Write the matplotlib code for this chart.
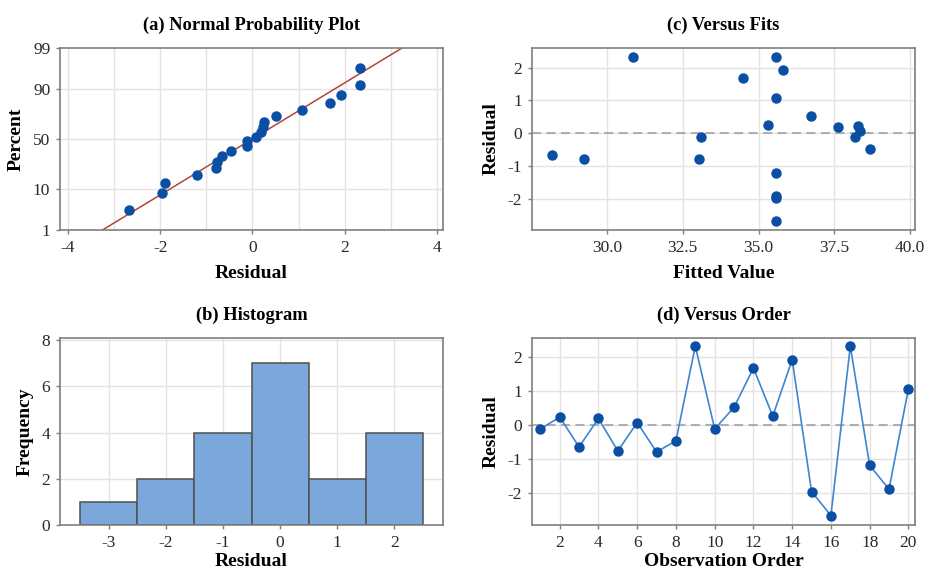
import matplotlib.pyplot as plt
import numpy as np
from statistics import NormalDist

plt.rcParams['font.family'] = ['Liberation Serif', 'DejaVu Serif']
plt.rcParams['axes.unicode_minus'] = False

# residuals in observation order
order = list(range(1, 21))
residuals = [-0.12, 0.23, -0.65, 0.19, -0.77, 0.07, -0.80, -0.47, 2.33, -0.12,
             0.52, 1.68, 0.26, 1.93, -1.97, -2.68, 2.33, -1.20, -1.90, 1.07]
fitted = [38.17, 38.27, 28.2, 37.62, 33.04, 38.33, 29.23, 38.67, 30.87, 33.1,
          36.74, 34.48, 35.3, 35.81, 35.56, 35.56, 35.56, 35.56, 35.56, 35.56]

hist_centers = [-3, -2, -1, 0, 1, 2]
hist_counts = [1, 2, 4, 7, 2, 4]

pct_ticks = [1, 10, 50, 90, 99]

nd = NormalDist()
def z(p):
    return nd.inv_cdf(p / 100.0)

dot = '#0A4FA3'
grid_c = '#E3E3E3'
spine_c = '#7F7F7F'
txt_c = '#2A2A2A'
TITLE = 13.3
LABEL = 14

fig = plt.figure(figsize=(9.25, 5.75), dpi=100)
W, H = 925, 575
def axes_px(l, r, t, b):
    return fig.add_axes([l / W, 1 - b / H, (r - l) / W, (b - t) / H])

ax_a = axes_px(60, 443, 48, 230)
ax_c = axes_px(532, 915, 48, 230)
ax_b = axes_px(60, 443, 338, 525)
ax_d = axes_px(532, 915, 338, 525)

def style(ax, title, xlabel, ylabel, xpad=7):
    for s in ax.spines.values():
        s.set_color(spine_c)
        s.set_linewidth(1.2)
    ax.tick_params(colors=spine_c, labelcolor=txt_c, labelsize=12.5, length=3, width=1, pad=4)
    ax.set_axisbelow(True)
    ax.set_title(title, fontsize=TITLE, fontweight='bold', pad=13)
    ax.set_xlabel(xlabel, fontsize=LABEL, fontweight='bold', labelpad=xpad)
    ax.set_ylabel(ylabel, fontsize=LABEL, fontweight='bold', labelpad=6)

# (a) normal probability plot
srt = np.sort(residuals)
n = len(srt)
probs = (np.arange(1, n + 1) - 0.3) / (n + 0.4) * 100
ax_a.set_xlim(-4.17, 4.13)
ax_a.set_ylim(z(1), z(99))
for gx in range(-4, 5):
    ax_a.axvline(gx, color=grid_c, lw=1, zorder=0)
for p in pct_ticks[1:-1]:
    ax_a.axhline(z(p), color=grid_c, lw=1, zorder=0)
mu = np.mean(residuals)
sd = np.std(residuals, ddof=1)
zz = np.array([z(0.5), z(99.5)])
ax_a.plot(mu + sd * zz, zz, color='#B5443C', lw=1.1, zorder=2)
ax_a.plot(srt, [z(p) for p in probs], 'o', color=dot, ms=6.5, zorder=3)
ax_a.set_xticks([-4, -2, 0, 2, 4])
ax_a.set_yticks([z(p) for p in pct_ticks])
ax_a.set_yticklabels([str(p) for p in pct_ticks])
style(ax_a, '(a) Normal Probability Plot', 'Residual', 'Percent')

# (c) versus fits
ax_c.set_xlim(27.53, 40.16)
ax_c.set_ylim(-2.95, 2.6)
ax_c.grid(True, color=grid_c, lw=1)
ax_c.axhline(0, color='#A8A8A8', lw=1.3, ls=(0, (5, 3)), zorder=1)
ax_c.plot(fitted, residuals, 'o', color=dot, ms=6.5, zorder=3)
ax_c.set_xticks([30.0, 32.5, 35.0, 37.5, 40.0])
ax_c.set_xticklabels(['30.0', '32.5', '35.0', '37.5', '40.0'])
ax_c.set_yticks([-2, -1, 0, 1, 2])
style(ax_c, '(c) Versus Fits', 'Fitted Value', 'Residual')

# (b) histogram
ax_b.set_xlim(-3.85, 2.85)
ax_b.set_ylim(0, 8.1)
ax_b.grid(True, color=grid_c, lw=1)
ax_b.bar(hist_centers, hist_counts, width=1.0, color='#7BA7DA', edgecolor='#505050',
         linewidth=1.1, zorder=2)
ax_b.set_xticks(hist_centers)
ax_b.set_yticks([0, 2, 4, 6, 8])
style(ax_b, '(b) Histogram', 'Residual', 'Frequency', xpad=2)

# (d) versus order
ax_d.set_xlim(0.57, 20.34)
ax_d.set_ylim(-2.96, 2.57)
ax_d.grid(True, color=grid_c, lw=1)
ax_d.axhline(0, color='#A8A8A8', lw=1.3, ls=(0, (5, 3)), zorder=1)
ax_d.plot(order, residuals, '-', color='#3F86D0', lw=1.2, zorder=2)
ax_d.plot(order, residuals, 'o', color=dot, ms=6.5, zorder=3)
ax_d.set_xticks(list(range(2, 21, 2)))
ax_d.set_yticks([-2, -1, 0, 1, 2])
style(ax_d, '(d) Versus Order', 'Observation Order', 'Residual', xpad=2)

fig.savefig('out.png', dpi=100)
